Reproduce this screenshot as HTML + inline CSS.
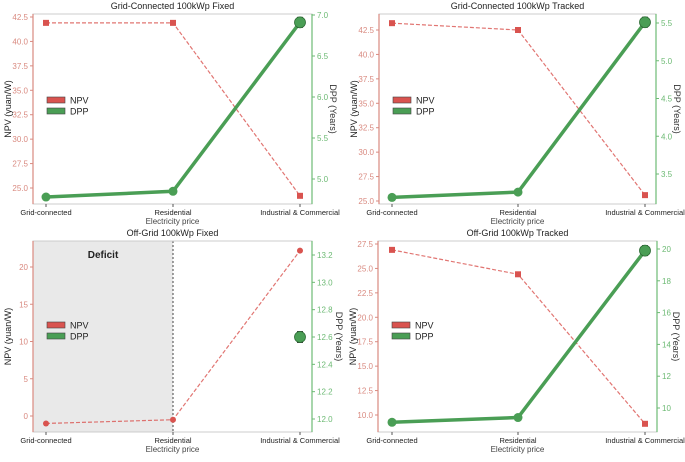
<!DOCTYPE html>
<html><head><meta charset="utf-8"><style>
body{margin:0;background:#fff;width:685px;height:457px;overflow:hidden;font-family:"Liberation Sans",sans-serif}
</style></head><body>
<svg id="chart" width="685" height="457" xmlns="http://www.w3.org/2000/svg" font-family="Liberation Sans, sans-serif"></svg>
<script>
const categories = ["Grid-connected","Residential","Industrial & Commercial"];
const titles = ["Grid-Connected 100kWp Fixed","Grid-Connected 100kWp Tracked","Off-Grid 100kWp Fixed","Off-Grid 100kWp Tracked"];
const npvValues1 = [41.9, 41.9, 24.2];
const dppValues1 = [4.78, 4.85, 6.91];
const npvValues2 = [43.2, 42.5, 25.6];
const dppValues2 = [3.19, 3.26, 5.51];
const npvValues3 = [-1.0, -0.5, 22.2];
const dppValues3 = [null, null, 12.6];
const npvValues4 = [26.9, 24.4, 9.1];
const dppValues4 = [9.1, 9.4, 19.9];
const dppErr1 = [0, 0, 0.06];
const dppErr2 = [0, 0, 0.05];
const dppErr3 = [0, 0, 0.04];
const dppErr4 = [0, 0, 0.3];
const npvTicks1 = [25,27.5,30,32.5,35,37.5,40,42.5];
const dppTicks1 = [5.0,5.5,6.0,6.5,7.0];
const npvTicks2 = [25,27.5,30,32.5,35,37.5,40,42.5];
const dppTicks2 = [3.5,4.0,4.5,5.0,5.5];
const npvTicks3 = [0,5,10,15,20];
const dppTicks3 = [12.0,12.2,12.4,12.6,12.8,13.0,13.2];
const npvTicks4 = [10,12.5,15,17.5,20,22.5,25,27.5];
const dppTicks4 = [10,12,14,16,18,20];

const panels = [
 {npv:npvValues1,dpp:dppValues1,err:dppErr1,lt:npvTicks1,rt:dppTicks1,L:33,R:312,T:14,B:204,
  xs:[46,173,300],lc:[42.5,17,25,188],rc:[7.0,15,5.0,179],ld:1,rd:1,marker:'sq',legY:100,rOff:18},
 {npv:npvValues2,dpp:dppValues2,err:dppErr2,lt:npvTicks2,rt:dppTicks2,L:379,R:656,T:14,B:204,
  xs:[392,518,645],lc:[42.5,30,25,201],rc:[5.5,23,3.5,174],ld:1,rd:1,marker:'sq',legY:100,rOff:18},
 {npv:npvValues3,dpp:dppValues3,err:dppErr3,lt:npvTicks3,rt:dppTicks3,L:33,R:312,T:241,B:432,
  xs:[46,173,300],lc:[20,267,0,416],rc:[13.2,255,12.0,419],ld:0,rd:1,marker:'ci',legY:325,deficit:true,rOff:24},
 {npv:npvValues4,dpp:dppValues4,err:dppErr4,lt:npvTicks4,rt:dppTicks4,L:378,R:657,T:241,B:432,
  xs:[392,518,645],lc:[27.5,244,10,415],rc:[20,249,10,408],ld:1,rd:0,marker:'sq',legY:325,rOff:16}
];
const svg=document.getElementById('chart');
const NS='http://www.w3.org/2000/svg';
function mk(tag,attrs,parent){const e=document.createElementNS(NS,tag);for(const k in attrs)e.setAttribute(k,attrs[k]);(parent||svg).appendChild(e);return e;}
const RED='#d9534f',GREEN='#4a9e55',REDT='#d98a80',GREENT='#6dba74';
panels.forEach((p,i)=>{
  const g=mk('g',{});
  
  
  const yL=v=>p.lc[1]+(v-p.lc[0])*(p.lc[3]-p.lc[1])/(p.lc[2]-p.lc[0]);
  const yR=v=>p.rc[1]+(v-p.rc[0])*(p.rc[3]-p.rc[1])/(p.rc[2]-p.rc[0]);
  const xS=j=>p.xs[j];
  if(p.deficit){
    const r=mk('rect',{x:p.L,y:p.T,width:xS(1)-p.L,height:p.B-p.T,fill:'#e9e9e9'},g);
    
    const dl=mk('line',{x1:xS(1),x2:xS(1),y1:p.T,y2:p.B,stroke:'#444','stroke-dasharray':'2,2','stroke-width':1},g);
    
    const dt=mk('text',{x:(p.L+xS(1))/2,y:p.T+17,'font-size':10,'font-weight':'bold','text-anchor':'middle',fill:'#222'},g);
    dt.textContent='Deficit';
  }
  const box=mk('rect',{x:p.L,y:p.T,width:p.R-p.L,height:p.B-p.T,fill:'none',stroke:'#ccc','stroke-width':1},g);
  
  mk('line',{x1:p.L,x2:p.L,y1:p.T,y2:p.B,stroke:REDT,'stroke-width':1.2},g);
  mk('line',{x1:p.R,x2:p.R,y1:p.T,y2:p.B,stroke:GREENT,'stroke-width':1.2},g);
  p.lt.forEach(t=>{const y=yL(t);mk('line',{x1:p.L-3,x2:p.L,y1:y,y2:y,stroke:REDT},g);
    const tx=mk('text',{x:p.L-5,y:y+3,'font-size':8,'text-anchor':'end',fill:REDT},g);tx.textContent=t.toFixed(p.ld);
    });
  p.rt.forEach(t=>{const y=yR(t);mk('line',{x1:p.R,x2:p.R+3,y1:y,y2:y,stroke:GREENT},g);
    const tx=mk('text',{x:p.R+5,y:y+3,'font-size':8,fill:GREENT},g);tx.textContent=t.toFixed(p.rd);
    });
  categories.forEach((c,j)=>{mk('line',{x1:xS(j),x2:xS(j),y1:p.B,y2:p.B+3,stroke:'#555'},g);
    const tx=mk('text',{x:xS(j),y:p.B+11,'font-size':7.5,'text-anchor':'middle',fill:'#222'},g);tx.textContent=c;
    });
  const cx=(p.L+p.R)/2;
  const ti=mk('text',{x:cx,y:p.T-5,'font-size':9,'text-anchor':'middle',fill:'#222'},g);ti.textContent=titles[i];
  
  const xl=mk('text',{x:cx,y:p.B+20,'font-size':8,'text-anchor':'middle',fill:'#444'},g);xl.textContent='Electricity price';
  
  const ym=(p.T+p.B)/2;
  const yl=mk('text',{x:0,y:0,'font-size':9,'text-anchor':'middle',fill:'#222',transform:`translate(${p.L-22},${ym}) rotate(-90)`},g);yl.textContent='NPV (yuan/W)';
  
  const yr=mk('text',{x:0,y:0,'font-size':9,'text-anchor':'middle',fill:'#333',transform:`translate(${p.R+p.rOff},${ym}) rotate(90)`},g);yr.textContent='DPP (Years)';
  
  const np=p.npv.map((v,j)=>xS(j)+','+yL(v)).join(' ');
  const nl=mk('polyline',{points:np,fill:'none',stroke:RED,'stroke-width':1.2,'stroke-dasharray':'4,2',opacity:0.8},g);
  
  p.npv.forEach((v,j)=>{let m;
    if(p.marker==='sq')m=mk('rect',{x:xS(j)-3,y:yL(v)-3,width:6,height:6,fill:RED},g);
    else m=mk('circle',{cx:xS(j),cy:yL(v),r:3,fill:RED},g);
    });
  const valid=p.dpp.map((v,j)=>[v,j]).filter(a=>a[0]!==null);
  if(valid.length>1){const dl=mk('polyline',{points:valid.map(a=>xS(a[1])+','+yR(a[0])).join(' '),fill:'none',stroke:GREEN,'stroke-width':3.5},g);
    }
  valid.forEach(([v,j])=>{const last=j===2;
    if(p.err[j]>0){const e1=yR(v+p.err[j]),e2=yR(v-p.err[j]);const pe=Math.max(Math.abs(e2-e1)/2,5);
      const ey1=yR(v)-pe,ey2=yR(v)+pe;
      mk('line',{x1:xS(j),x2:xS(j),y1:ey1,y2:ey2,stroke:'#333'},g);
      mk('line',{x1:xS(j)-3,x2:xS(j)+3,y1:ey1,y2:ey1,stroke:'#333'},g);
      mk('line',{x1:xS(j)-3,x2:xS(j)+3,y1:ey2,y2:ey2,stroke:'#333'},g);}
    const c=mk('circle',{cx:xS(j),cy:yR(v),r:last?5.5:4.5,fill:GREEN,stroke:last?'#2d6b35':'none','stroke-width':0.8},g);
    });
  const lx=p.L+14;
  [['NPV',RED],['DPP',GREEN]].forEach((it,k)=>{const y=p.legY+k*11;
    const lg=mk('g',{},g);
    mk('rect',{x:lx,y:y-3,width:18,height:6,fill:it[1],stroke:'#444','stroke-width':0.6},lg);
    const t=mk('text',{x:lx+23,y:y+3.5,'font-size':9,fill:'#222'},lg);t.textContent=it[0];});
});
</script>
</body></html>
